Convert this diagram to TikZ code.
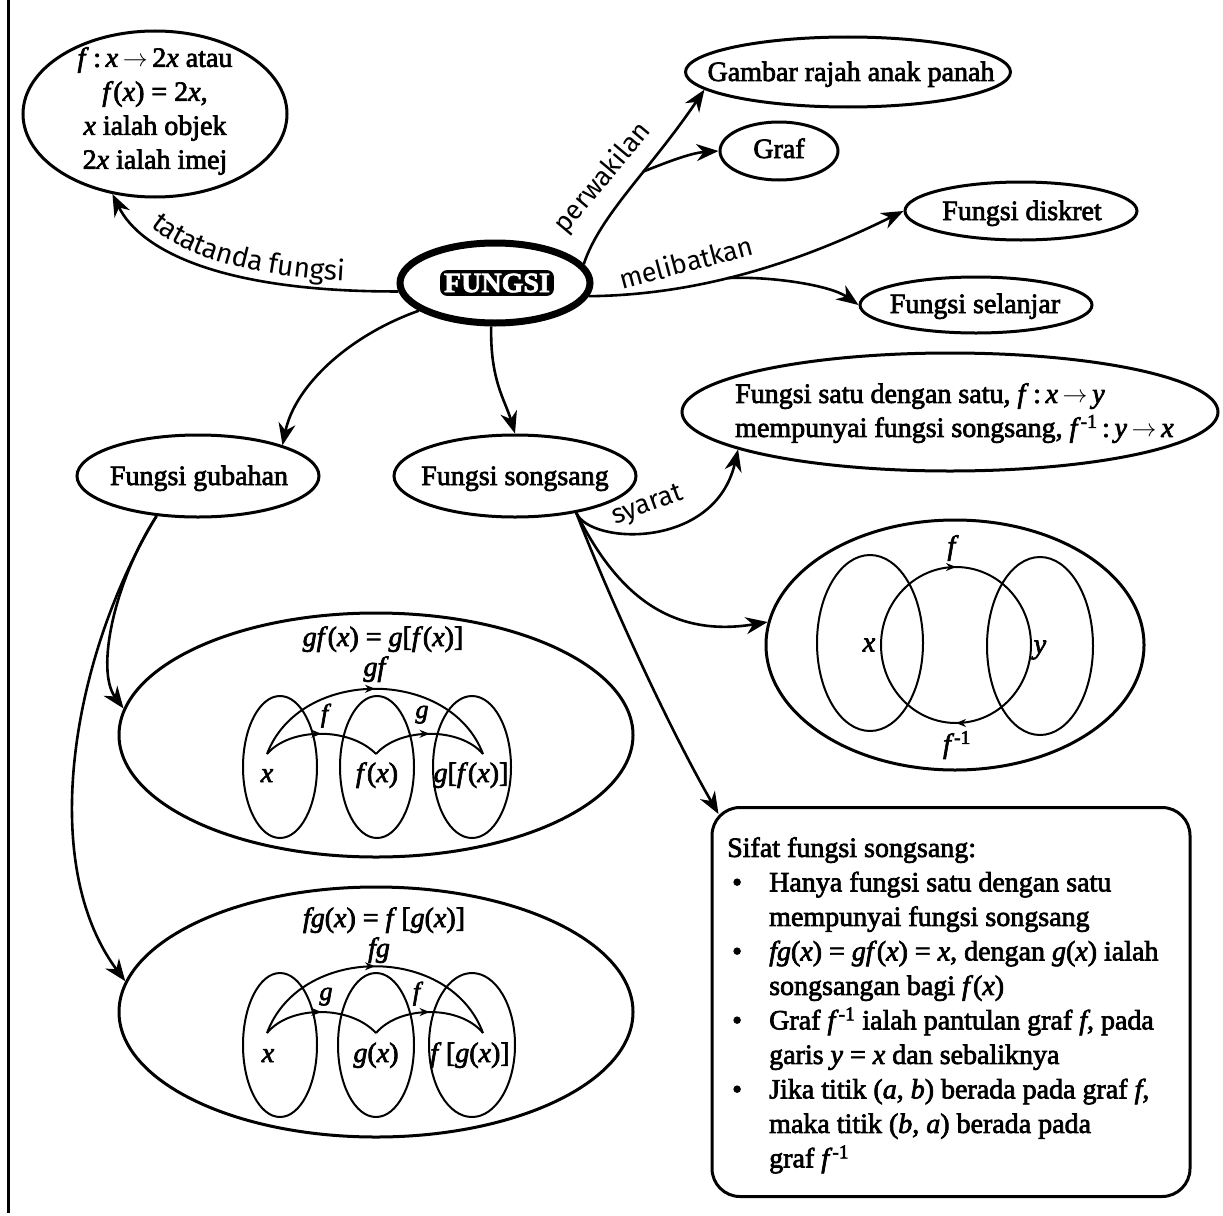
\documentclass[tikz,border=0pt]{standalone}
\usepackage{fontspec}
\setmainfont{Liberation Serif}[FakeBold=2.5]
\newfontfamily\handfont{Fira Sans}
\usetikzlibrary{shapes.geometric,arrows.meta,decorations.markings,decorations.text,calc}
\newcommand\mi[1]{\textit{#1}}
\newcommand\fsz{\fontsize{28}{34}\selectfont}
\newcommand\finv{\mi{f}\textsuperscript{-1}}
\newcommand\ar{\,$\rightarrow$\,}
\begin{document}
\begin{tikzpicture}[x=1pt,y=-1pt,
  ell/.style 2 args={ellipse, draw, line width=3pt, minimum width=#1, minimum height=#2, inner sep=0pt},
  sell/.style 2 args={ellipse, draw, line width=2pt, minimum width=#1, minimum height=#2, inner sep=0pt},
  txt/.style={font=\fsz, inner sep=0pt, align=center},
  lab/.style={font=\fsz, inner sep=0pt},
  slab/.style={font=\fontsize{26}{30}\selectfont, inner sep=0pt},
  hnd/.style={font=\handfont\fontsize{27}{30}\selectfont, inner sep=0pt},
  arr/.style={line width=2.6pt, -{Stealth[length=22pt, width=17pt, inset=7pt]}},
  thn/.style={line width=2pt},
  midarr/.style={postaction={decorate}, decoration={markings, mark=at position #1 with {\arrow{Stealth[length=10pt,width=8pt]}}}},
  fgs/.style={fill=black, text=white, rounded corners=7pt, inner xsep=4pt, inner ysep=3.5pt, font=\bfseries\fontsize{28}{34}\selectfont}
]
\useasboundingbox (0,0) rectangle (1223,1215);
\fill[white] (0,0) rectangle (1223,1215);
\draw[line width=3pt] (8,0) -- (8,1213);

% ---------- main nodes ----------
\node[ell={264pt}{166pt}] (note) at (155,114) {};
\node[txt] (notet) at (155,111) {\mi{f}\,:\,\mi{x}\ar 2\mi{x} atau\\\mi{f}(\mi{x}) = 2\mi{x},\\\mi{x} ialah objek\\2\mi{x} ialah imej};

\node[ellipse, draw, line width=7pt, minimum width=190pt, minimum height=80pt, inner sep=0pt] (fungsi) at (495,283) {};
\node[fgs] (fungsit) at (497,283) {FUNGSI};

\node[ell={325pt}{70pt}] (gambar) at (848,72) {};
\node[lab, anchor=base] (gambart) at (851,81) {Gambar rajah anak panah};
\node[ell={118pt}{58pt}] (graf) at (779,151) {};
\node[lab, anchor=base] (graft) at (779,158) {Graf};
\node[ell={232pt}{58pt}] (diskret) at (1021,211) {};
\node[lab, anchor=base] (diskrett) at (1022,220) {Fungsi diskret};
\node[ell={232pt}{56pt}] (selanjar) at (976,305) {};
\node[lab, anchor=base] (selanjart) at (975,313) {Fungsi selanjar};

\node[ell={242pt}{82pt}] (gubahan) at (198,476) {};
\node[lab, anchor=base] (gubahant) at (199,485) {Fungsi gubahan};
\node[ell={242pt}{82pt}] (songsang) at (515,476) {};
\node[lab, anchor=base] (songsangt) at (515,485) {Fungsi songsang};

\node[ell={536pt}{118pt}] (satu) at (950,412) {};
\node[txt, align=left, anchor=north west] (satut) at (735,383) {Fungsi satu dengan satu, \mi{f}\,:\,\mi{x}\ar\mi{y}\\mempunyai fungsi songsang, \finv\,:\,\mi{y}\ar\mi{x}};

% ---------- inverse diagram ----------
\node[ell={378pt}{250pt}] (inv) at (955,645) {};
\node[sell={106pt}{176pt}] (invA) at (870,643) {};
\node[sell={106pt}{178pt}] (invB) at (1040,646) {};
\coordinate (cL) at (881,645);
\coordinate (cR) at (1031,645);
\draw[thn, midarr=0.5] (cL) arc[start angle=180, end angle=0, x radius=75pt, y radius=78pt];
\draw[thn, midarr=0.5] (cR) arc[start angle=0, end angle=-180, x radius=75pt, y radius=78pt];
\node[lab] (invf) at (953,548) {\mi{f}};
\node[lab] (invfi) at (957,745) {\finv};
\node[lab] (invx) at (869,645) {\mi{x}};
\node[lab] (invy) at (1040,650) {\mi{y}};

% ---------- gf diagram ----------
\node[ell={514pt}{244pt}] (gf) at (376,735) {};
\node[lab, anchor=base] (gft) at (383,646) {\mi{gf}(\mi{x}) = \mi{g}[\mi{f}(\mi{x})]};
\node[sell={74pt}{142pt}] (gfA) at (280,767) {};
\node[sell={74pt}{142pt}] (gfB) at (377,767) {};
\node[sell={78pt}{142pt}] (gfC) at (472,767) {};
\coordinate (gf1) at (267,754);
\coordinate (gf2) at (376,754);
\coordinate (gf3) at (483,754);
\draw[thn, midarr=0.5] (gf1) .. controls (290,727) and (350,727) .. (gf2);
\draw[thn, midarr=0.5] (gf2) .. controls (400,727) and (460,727) .. (gf3);
\draw[thn, midarr=0.5] (gf1) .. controls (300,667) and (450,667) .. (gf3);
\node[lab, anchor=base] (gfl) at (376,676) {\mi{gf}};
\node[slab, anchor=base] (gff) at (326,722) {\mi{f}};
\node[slab, anchor=base] (gfg) at (422,718) {\mi{g}};
\node[lab, anchor=base] (gfx) at (267,782) {\mi{x}};
\node[lab, anchor=base] (gffx) at (377,782) {\mi{f}(\mi{x})};
\node[lab, anchor=base] (gfgfx) at (471,782) {\mi{g}[\mi{f}(\mi{x})]};

% ---------- fg diagram ----------
\node[ell={514pt}{250pt}] (fg) at (376,1012) {};
\node[lab, anchor=base] (fgt) at (384,927) {\mi{fg}(\mi{x}) = \mi{f}\,[\mi{g}(\mi{x})]};
\node[sell={74pt}{144pt}] (fgA) at (280,1045) {};
\node[sell={76pt}{144pt}] (fgB) at (376,1045) {};
\node[sell={86pt}{144pt}] (fgC) at (472,1045) {};
\coordinate (fg1) at (267,1033);
\coordinate (fg2) at (376,1033);
\coordinate (fg3) at (483,1033);
\draw[thn, midarr=0.5] (fg1) .. controls (290,1005) and (350,1005) .. (fg2);
\draw[thn, midarr=0.5] (fg2) .. controls (400,1005) and (460,1005) .. (fg3);
\draw[thn, midarr=0.5] (fg1) .. controls (300,944) and (450,944) .. (fg3);
\node[lab, anchor=base] (fgl) at (379,957) {\mi{fg}};
\node[slab, anchor=base] (fgg) at (326,1000) {\mi{g}};
\node[slab, anchor=base] (fgf) at (418,1000) {\mi{f}};
\node[lab, anchor=base] (fgx) at (268,1062) {\mi{x}};
\node[lab, anchor=base] (fggx) at (376,1062) {\mi{g}(\mi{x})};
\node[lab, anchor=base] (fgfgx) at (470,1062) {\mi{f}\,[\mi{g}(\mi{x})]};

% ---------- Sifat box ----------
\node[draw, rounded corners=28pt, line width=3pt, minimum width=478pt, minimum height=389pt, inner sep=0pt] (sifat) at (951,1002) {};
\node[txt, align=left, anchor=north west, font=\fontsize{28}{34.5}\selectfont] (sifatt) at (727,837) {%
Sifat fungsi songsang:\\
\hspace*{5pt}\makebox[37pt][l]{\textbullet}Hanya fungsi satu dengan satu\\
\hspace*{42pt}mempunyai fungsi songsang\\
\hspace*{5pt}\makebox[37pt][l]{\textbullet}\mi{fg}(\mi{x}) = \mi{gf}(\mi{x}) = \mi{x}, dengan \mi{g}(\mi{x}) ialah\\
\hspace*{42pt}songsangan bagi \mi{f}(\mi{x})\\
\hspace*{5pt}\makebox[37pt][l]{\textbullet}Graf \finv{} ialah pantulan graf \mi{f}, pada\\
\hspace*{42pt}garis \mi{y} = \mi{x} dan sebaliknya\\
\hspace*{5pt}\makebox[37pt][l]{\textbullet}Jika titik (\mi{a}, \mi{b}) berada pada graf \mi{f},\\
\hspace*{42pt}maka titik (\mi{b}, \mi{a}) berada pada\\
\hspace*{42pt}graf \finv};
\coordinate (sifc) at ($(sifat.north west)+(8,8)$);

% ---------- connectors ----------
\draw[arr] (fungsi.185) .. controls (220,292) and (140,250) .. (note.242);
\path[decorate, decoration={text along path, text={|\handfont\fontsize{28}{30}\selectfont|tatatanda fungsi}, text align={left indent=52pt}, raise=9pt}] (note.242) .. controls (140,250) and (220,292) .. (fungsi.185);

\draw[arr] (fungsi.12) .. controls (600,215) and (650,170) .. (gambar.187) coordinate[pos=0.6] (pj);
\draw[arr] (pj) .. controls (665,163) and (690,153) .. (graf.west);
\node[hnd, rotate=50] (lperw) at (603,178) {perwakilan};

\draw[arr] (fungsi.-8) .. controls (700,295) and (800,262) .. (diskret.west) coordinate[pos=0.43] (mj);
\draw[arr] (mj) .. controls (770,276) and (830,285) .. (selanjar.west);
\node[hnd, rotate=15] (lmel) at (686,262) {melibatkan};

\draw[arr] (fungsi.200) .. controls (350,335) and (295,385) .. (gubahan.20);
\draw[arr] (fungsi.265) .. controls (490,380) and (505,400) .. (songsang.90);

\draw[arr] (gubahan.224) .. controls (115,580) and (95,670) .. (gf.174);
\draw[arr] (gubahan.224) .. controls (75,650) and (35,860) .. (fg.173);

\draw[arr] (songsang.-31) .. controls (590,545) and (715,550) .. (satu.190);
\node[hnd, rotate=20] (lsya) at (648,506) {syarat};
\draw[arr] (songsang.-31) .. controls (610,580) and (660,640) .. (inv.173);
\draw[arr] (songsang.-31) .. controls (610,600) and (670,730) .. (sifc);
\end{tikzpicture}
\end{document}
